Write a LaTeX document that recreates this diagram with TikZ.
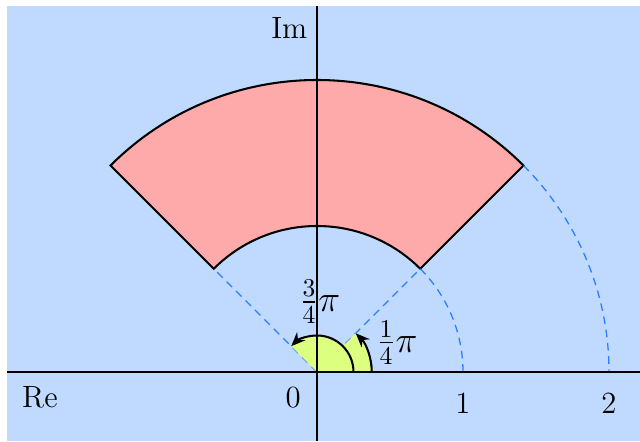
\documentclass[tikz,border=0pt]{standalone}
\usetikzlibrary{arrows.meta}
\definecolor{bgblue}{RGB}{192,218,255}
\definecolor{sectpink}{RGB}{255,170,170}
\definecolor{anglefill}{RGB}{221,255,128}
\definecolor{dashblue}{RGB}{42,127,255}
\begin{document}
\begin{tikzpicture}[x=2cm,y=2cm,
  edge/.style={line width=0.8pt,draw=black},
  guide/.style={line width=0.5pt,dashblue,dash pattern=on 3pt off 2.2pt},
  anglearc/.style={line width=0.8pt,draw=black,-{Stealth[length=5.5pt,width=4.5pt]}},
  lbl/.style={inner sep=1pt,font=\large},
  fraclbl/.style={inner sep=1pt,font=\Large}]
\useasboundingbox (-2.1712,-0.4726) rectangle (2.2123,2.5479);
\fill[bgblue] (-2.123,-0.4726) rectangle (2.2123,2.510);
% coordinates
\coordinate (O) at (0,0);
\coordinate (I45) at (45:1);
\coordinate (I135) at (135:1);
\coordinate (xl) at (-2.123,0);
\coordinate (xr) at (2.2123,0);
\coordinate (yb) at (0,-0.4726);
\coordinate (yt) at (0,2.510);
% sector
\filldraw[fill=sectpink,edge,line join=miter] (45:1) -- (45:2) arc (45:135:2) -- (135:1) arc (135:45:1) -- cycle;
% dashed guides
\draw[guide] (O) -- (I45);
\draw[guide] (O) -- (I135);
\draw[guide] (I45) arc (45:0:1);
\draw[guide] (45:2) arc (45:0:2);
% angle fill
\fill[anglefill] (O) -- (0.375,0) arc (0:45:0.375) -- cycle;
\fill[anglefill] (O) -- (0.25,0) arc (0:135:0.25) -- cycle;
% axes
\draw[edge] (xl) -- (xr);
\draw[edge] (yb) -- (yt);
% angle arcs
\draw[anglearc] (0.25,0) arc (0:135:0.25);
\draw[anglearc] (0.375,0) arc (0:45:0.375);
% labels
\node[lbl] (im) at (-0.19,2.356) {Im};
\node[lbl] (re) at (-1.897,-0.171) {Re};
\node[lbl] (l0) at (-0.164,-0.178) {0};
\node[lbl] (l1) at (1.0,-0.212) {1};
\node[lbl] (l2) at (2.0,-0.212) {2};
\node[fraclbl] (a3) at (0.02,0.479) {$\frac{3}{4}\pi$};
\node[fraclbl] (a1) at (0.548,0.199) {$\frac{1}{4}\pi$};
\end{tikzpicture}
\end{document}
